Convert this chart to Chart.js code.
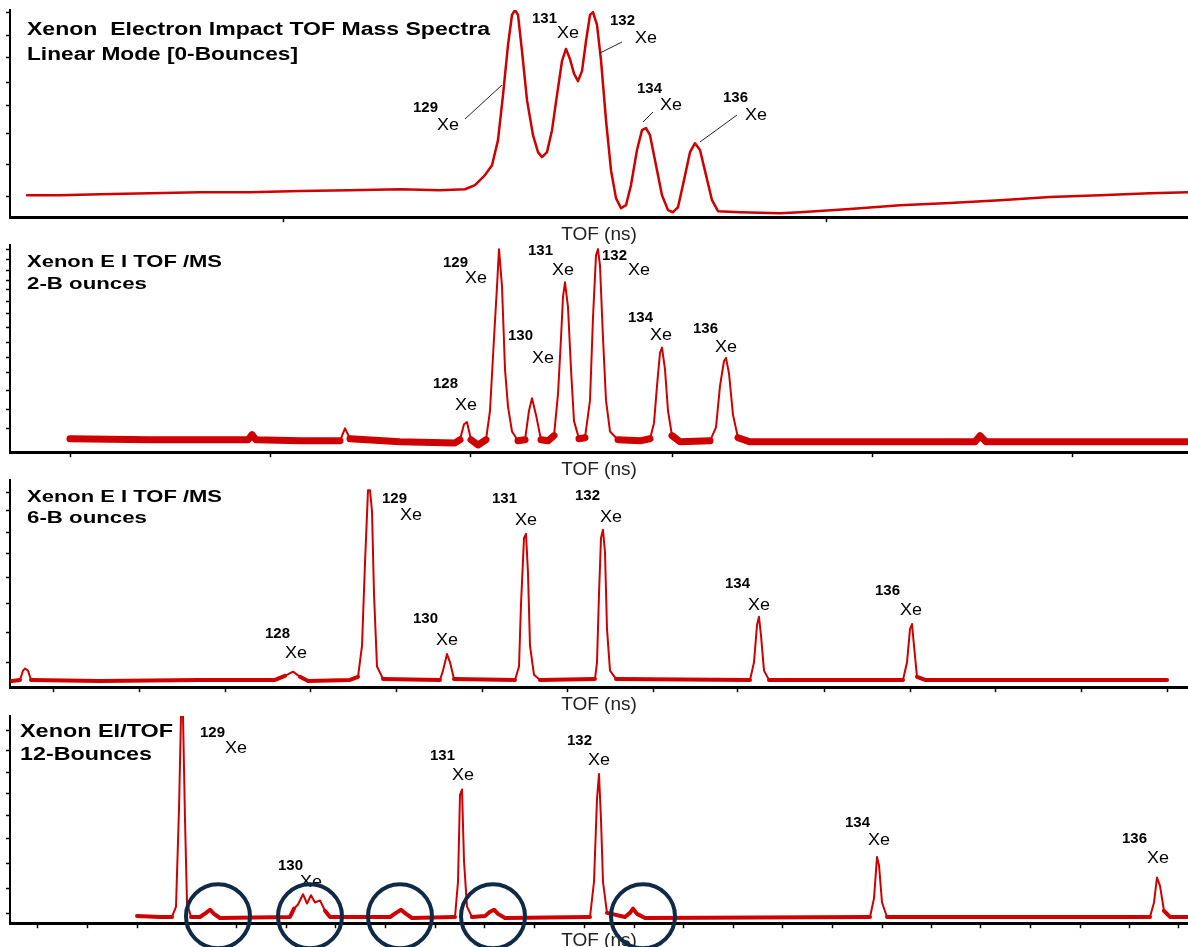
<!DOCTYPE html>
<html>
<head>
<meta charset="utf-8">
<script src="https://cdn.jsdelivr.net/npm/chart.js@4.4.1/dist/chart.umd.min.js"></script>
<style>
  html, body { margin: 0; padding: 0; background: #fff; overflow: hidden; width: 1188px; height: 947px; }
  .panel { position: absolute; left: 0; width: 1188px; height: 247px; }
</style>
</head>
<body>
<div class="panel" style="top:0px"><canvas id="p0" width="1188" height="247"></canvas></div>
<div class="panel" style="top:235px"><canvas id="p1" width="1188" height="247"></canvas></div>
<div class="panel" style="top:470px"><canvas id="p2" width="1188" height="247"></canvas></div>
<div class="panel" style="top:706px"><canvas id="p3" width="1188" height="247"></canvas></div>
<script>
// TOF channel (arbitrary) and relative intensity
const tofLinear = [17,50,90,140,190,240,290,340,390,430,455,465,475,482,488,493,498,502,505,508,512,517,523,528,532,537,542,547,552,556,560,564,568,572,576,580,583,587,591,596,601,606,611,616,621,627,632,636,640,646,652,658,663,668,674,680,685,690,696,702,708,730,770,790,840,890,940,990,1040,1090,1140,1178];
const countsLinear = [10.6,10.6,11.1,11.6,12.1,12.1,12.6,13.0,13.5,13.0,13.5,15.5,20.3,25.1,37.2,58.9,83.1,97.6,100,97.6,80.2,56.5,39.6,31.4,29.0,31.4,42.0,58.9,75.4,81.2,76.3,69.3,65.7,70.5,85.0,97.6,99.0,92.8,75.8,46.9,22.7,9.2,4.3,5.8,15.5,32.4,42.0,43.0,39.6,25.1,10.6,3.4,2.4,4.8,17.9,31.4,35.7,32.4,20.3,8.2,2.9,2.4,1.9,2.4,3.9,5.8,6.8,8.2,9.7,10.6,11.6,12.1];

const tof2b = [60,140,238,242,246,290,330,335,340,390,445,450,454,457,461,468,476,480,484,487,489,492,495,498,502,508,515,519,522,526,531,538,544,548,551,553,555,558,561,564,569,575,580,583,586,588,590,593,596,600,608,630,640,644,647,650,652,655,658,662,670,700,706,710,714,716,719,723,728,740,840,965,970,976,1090,1178];
const counts2b = [6.5,6.0,6.0,8.5,6.0,5.5,5.5,11.5,6.5,5.0,4.5,6.0,13.5,14.5,6.0,3.5,6.0,20,55,80,98,80,40,22,10,5.5,6.0,20,26,18,6.0,5.5,8.0,28,55,75,82,70,40,15,6.5,7.0,25,65,95,98,90,55,25,10,6.0,5.5,6.5,14,32,48,50.5,40,20,8.0,5.0,5.5,12,32,44,45.5,38,18,7.0,5.0,5.0,5.0,8.0,5.0,5.0,5.0];

const tof6b = [2,10,13,15,18,21,90,190,265,275,283,290,298,340,348,352,355,358,360,362,364,367,373,430,433,437,440,444,505,509,511,514,516,518,520,524,530,585,587,589,591,593,595,597,600,606,740,744,747,749,751,754,759,893,897,900,902,904,907,915,1040,1157];
const counts6b = [3.0,3.5,8.0,9.0,8.0,3.5,3.0,3.5,3.5,5.5,7.5,5.0,3.0,3.5,5.0,20,60,95,95,85,45,10,4.0,3.5,8.0,16,12,4.0,3.5,10,40,72,74,55,20,6.0,3.5,4.0,12,45,72,76,65,28,8.0,4.0,3.5,12,30,34,25,8.0,3.5,3.5,12,28,30.5,20,5.0,3.5,3.5,3.5];

const tof12b = [127,150,162,166,169,171,173,175,177,181,190,196,200,204,210,280,284,288,293,297,301,305,310,315,320,380,386,391,396,402,445,448,450,452,454,457,462,475,480,484,488,495,580,584,587,589,591,593,597,615,620,623,627,635,860,864,867,869,872,877,1140,1144,1147,1150,1154,1160,1178];
const counts12b = [3.5,3.0,3.0,8.0,55,100,100,50,10,3.0,3.0,5.0,6.5,4.5,2.5,3.0,7.0,9.0,14,9.5,13.5,10,11,6.0,3.0,3.0,5.0,6.5,4.5,2.5,3.0,20,62,64.5,30,8.0,3.0,3.5,5.5,6.5,4.5,2.5,3.0,20,60,72,50,20,5.0,3.0,5.0,7.0,4.5,2.5,3.0,12,32,28,10,3.0,3.0,10,22,18,6.0,3.0,3.0];

// unlabelled tick marks
const xTicksLinear = [273, 816];
const xTicks2b = [60, 260, 460, 662, 862, 1062];
const xTicks6b = [43,129,215,300,386,472,557,643,728,814,900,985,1071,1157];
const xTicks12b = [27,77,127,176,226,276,325,375,425,474,524,574,624,673,723,772,822,872,921,971,1020,1070,1119,1168];
const yTicksLinear = [98.6, 87.9, 77.3, 65.2, 54.1, 40.6, 25.6, 10.1];
const yTicks2b = [97.6, 92.8, 87.9, 83.1, 78.3, 72.5, 67.1, 60.4, 53.1, 45.9, 38.6, 30.0, 20.8, 11.6];
const yTicks6b = [94.2, 85.5, 74.9, 64.7, 53.1, 40.6, 26.6, 12.1];
const yTicks12b = [92.8, 83.2, 72.6, 62.5, 51.9, 40.9, 28.8, 16.8, 4.8];

// isotope labels: mass number, number left/baseline, Xe left/baseline (panel pixels)
const isoLinear = [['129',413,112,437,130],['131',532,23,557,38],['132',610,25,635,43],['134',637,93,660,110],['136',723,102,745,120]];
const iso2b = [['128',433,153,455,175],['129',443,32,465,48],['130',508,105,532,128],['131',528,20,552,40],['132',602,25,628,40],['134',628,87,650,105],['136',693,98,715,117]];
const iso6b = [['128',265,168,285,188],['129',382,33,400,50],['130',413,153,436,175],['131',492,33,515,55],['132',575,30,600,52],['134',725,118,748,140],['136',875,125,900,145]];
const iso12b = [['129',200,31,225,47],['130',278,164,300,181],['131',430,54,452,74],['132',567,39,588,59],['134',845,121,868,139],['136',1122,137,1147,157]];

const RED = '#d00000';
const FONT = '"Liberation Sans", Arial, sans-serif';

const panels = [
  { tof: tofLinear, counts: countsLinear, xt: xTicksLinear, yt: yTicksLinear, iso: isoLinear,
    band: 0, bandW: 2, lineW: 2.5,
    titles: [['Xenon  Electron Impact TOF Mass Spectra', 27, 35, 463, 18], ['Linear Mode [0-Bounces]', 27, 60, 271, 18]],
    leaders: [[465,119,502,85],[600,53,622,42],[643,122,653,112],[700,142,737,115]], circles: [] },
  { tof: tof2b, counts: counts2b, xt: xTicks2b, yt: yTicks2b, iso: iso2b,
    band: 9, bandW: 7, lineW: 2,
    titles: [['Xenon E I TOF /MS', 27, 32, 195, 17], ['2-B ounces', 27, 54, 120, 17]],
    leaders: [], circles: [] },
  { tof: tof6b, counts: counts6b, xt: xTicks6b, yt: yTicks6b, iso: iso6b,
    band: 6, bandW: 4, lineW: 2,
    titles: [['Xenon E I TOF /MS', 27, 32, 195, 17], ['6-B ounces', 27, 53, 120, 17]],
    leaders: [], circles: [] },
  { tof: tof12b, counts: counts12b, xt: xTicks12b, yt: yTicks12b, iso: iso12b,
    band: 8, bandW: 4, lineW: 2,
    titles: [['Xenon EI/TOF', 20, 31, 153, 19], ['12-Bounces', 20, 54, 132, 19]],
    leaders: [], circles: [208, 300, 390, 483, 633] }
];

function fitText(ctx, txt, x, y, w, font) {
  ctx.font = font;
  const m = ctx.measureText(txt).width;
  ctx.save();
  ctx.translate(x, y);
  ctx.scale(w / m, 1);
  ctx.fillText(txt, 0, 0);
  ctx.restore();
}

function notesPlugin(p) {
  return {
    id: 'notes',
    afterDraw(chart) {
      const ctx = chart.ctx;
      ctx.save();
      ctx.fillStyle = '#000';
      ctx.textBaseline = 'alphabetic';
      p.titles.forEach(t => fitText(ctx, t[0], t[1], t[2], t[3], 'bold ' + t[4] + 'px ' + FONT));
      p.iso.forEach(l => {
        fitText(ctx, l[0], l[1], l[2], 25, 'bold 14px ' + FONT);
        fitText(ctx, 'Xe', l[3], l[4], 22, '16px ' + FONT);
      });
      ctx.strokeStyle = '#222';
      ctx.lineWidth = 1;
      p.leaders.forEach(s => {
        ctx.beginPath(); ctx.moveTo(s[0], s[1]); ctx.lineTo(s[2], s[3]); ctx.stroke();
      });
      // highlight circles round the small satellite peaks
      const xs = chart.scales.x;
      ctx.strokeStyle = '#0e2a47';
      ctx.lineWidth = 4;
      p.circles.forEach(c => {
        ctx.beginPath();
        ctx.arc(xs.getPixelForValue(c), chart.chartArea.bottom - 7, 32, 0, Math.PI * 2);
        ctx.stroke();
      });
      ctx.restore();
    }
  };
}

panels.forEach((p, k) => {
  const pts = p.tof.map((t, i) => ({ x: t, y: p.counts[i] }));
  new Chart(document.getElementById('p' + k), {
    type: 'line',
    data: {
      datasets: [{
        data: pts,
        borderColor: RED,
        borderWidth: p.lineW,
        borderJoinStyle: 'round',
        borderCapStyle: 'round',
        pointRadius: 0,
        tension: 0,
        segment: {
          borderWidth: c => (c.p0.parsed.y < p.band && c.p1.parsed.y < p.band) ? p.bandW : p.lineW
        }
      }]
    },
    options: {
      responsive: false,
      animation: false,
      devicePixelRatio: 1,
      events: [],
      layout: { padding: { left: 6, top: 10, right: 0, bottom: 1 } },
      plugins: { legend: { display: false }, tooltip: { enabled: false } },
      scales: {
        x: {
          type: 'linear', min: 0, max: 1178,
          afterBuildTicks: ax => { ax.ticks = p.xt.map(v => ({ value: v })); },
          ticks: { display: false, autoSkip: false },
          grid: { drawOnChartArea: false, tickLength: 5, color: '#000', tickWidth: 1.5 },
          border: { color: '#000', width: 3 },
          title: { display: true, text: 'TOF (ns)', color: '#222', font: { size: 19, family: FONT }, padding: { top: 1, bottom: 0 } }
        },
        y: {
          min: 0, max: 100,
          afterBuildTicks: ax => { ax.ticks = p.yt.map(v => ({ value: v })); },
          ticks: { display: false, autoSkip: false },
          grid: { drawOnChartArea: false, tickLength: 4, color: '#000', tickWidth: 1.5 },
          border: { color: '#000', width: 2 }
        }
      }
    },
    plugins: [notesPlugin(p)]
  });
});
</script>
</body>
</html>
